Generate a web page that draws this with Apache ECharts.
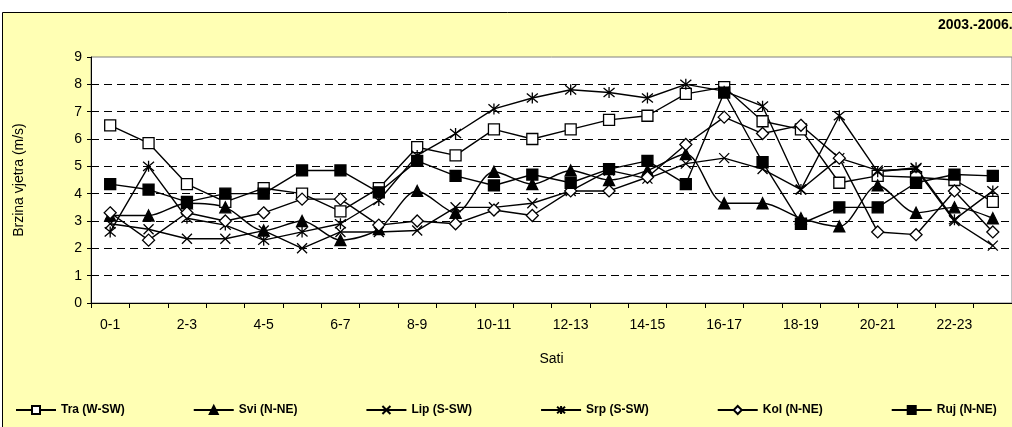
<!DOCTYPE html>
<html>
<head>
<meta charset="utf-8">
<script src="https://cdn.jsdelivr.net/npm/echarts@6/dist/echarts.min.js"></script>
<style>
html,body{margin:0;padding:0;background:#ffffff;}
#c{width:1012px;height:427px;}
</style>
</head>
<body>
<div id="c"></div>
<script>
var categories = ['0-1','1-2','2-3','3-4','4-5','5-6','6-7','7-8','8-9','9-10','10-11','11-12','12-13','13-14','14-15','15-16','16-17','17-18','18-19','19-20','20-21','21-22','22-23','23-24'];
var tra = [6.5, 5.85, 4.35, 3.7, 4.2, 4.0, 3.35, 4.2, 5.7, 5.4, 6.35, 6.0, 6.35, 6.7, 6.85, 7.65, 7.9, 6.65, 6.35, 4.4, 4.65, 4.6, 4.5, 3.7];
var svi = [3.2, 3.2, 3.65, 3.5, 2.65, 3.0, 2.3, 2.7, 4.1, 3.3, 4.8, 4.35, 4.85, 4.5, 4.85, 5.45, 3.65, 3.65, 3.1, 2.8, 4.3, 3.3, 3.5, 3.1];
var lip = [2.9, 2.7, 2.35, 2.35, 2.65, 2.0, 2.6, 2.6, 2.65, 3.5, 3.5, 3.65, 4.1, 4.85, 4.55, 5.1, 5.3, 4.9, 4.15, 5.3, 4.85, 4.9, 3.0, 2.1];
var srp = [2.6, 5.0, 3.1, 2.85, 2.3, 2.6, 2.9, 3.75, 5.4, 6.2, 7.1, 7.5, 7.8, 7.7, 7.5, 8.0, 7.75, 7.2, 4.15, 6.85, 4.8, 4.95, 3.05, 4.1];
var kol = [3.3, 2.3, 3.3, 3.0, 3.3, 3.8, 3.8, 2.85, 3.0, 2.9, 3.4, 3.2, 4.1, 4.1, 4.6, 5.8, 6.8, 6.2, 6.5, 5.3, 2.6, 2.5, 4.1, 2.6];
var ruj = [4.35, 4.15, 3.7, 4.0, 4.0, 4.85, 4.85, 4.05, 5.2, 4.65, 4.3, 4.7, 4.4, 4.9, 5.2, 4.35, 7.7, 5.15, 2.9, 3.5, 3.5, 4.4, 4.7, 4.65];
var seriesNames = ['Tra (W-SW)','Svi (N-NE)','Lip (S-SW)','Srp (S-SW)','Kol (N-NE)','Ruj (N-NE)'];
var yTicks = [0,1,2,3,4,5,6,7,8,9];

var FONT = '"Liberation Sans", Arial, sans-serif';
var X_PATH = 'path://M0,0L10,10M10,0L0,10';
var STAR_PATH = 'path://M0,0L10,10M10,0L0,10M5,-1L5,11';

function mk(name, data, symbol, size, fill, smooth) {
  return {
    name: name, type: 'line', data: data, symbol: symbol, symbolSize: size,
    smooth: smooth || false,
    showAllSymbol: true,
    lineStyle: {color: '#000', width: 1.4},
    itemStyle: {color: fill, borderColor: '#000', borderWidth: 1.3},
    emphasis: {disabled: true},
    z: 3
  };
}

var chart = echarts.init(document.getElementById('c'), null, {renderer: 'canvas'});
chart.setOption({
  animation: false,
  backgroundColor: '#ffffff',
  textStyle: {fontFamily: FONT},
  graphic: [
    {type: 'rect', z: -1, silent: true, shape: {x: 2.5, y: 12.5, width: 1030, height: 430},
     style: {fill: 'rgb(255,255,180)', stroke: '#000', lineWidth: 1}},
    {type: 'text', z: 10, left: 938, top: 18,
     style: {text: '2003.-2006.', font: 'bold 14px ' + FONT, fill: '#000'}}
  ],
  grid: {left: 91, top: 57, right: -6, bottom: 124, show: true, backgroundColor: '#ffffff', borderColor: '#808080', borderWidth: 1},
  legend: {
    bottom: 6, left: 10, itemWidth: 40, itemHeight: 10, itemGap: 68,
    textStyle: {fontFamily: FONT, fontWeight: 'bold', fontSize: 12, color: '#000'},
    data: seriesNames
  },
  xAxis: {
    type: 'category', data: categories, boundaryGap: true,
    name: 'Sati', nameLocation: 'middle', nameGap: 49,
    nameTextStyle: {fontFamily: FONT, fontSize: 14, color: '#000'},
    axisLine: {lineStyle: {color: '#000', width: 1}},
    axisTick: {show: true, interval: 0, length: 5, lineStyle: {color: '#000'}},
    axisLabel: {interval: 1, margin: 15, fontFamily: FONT, fontSize: 14, color: '#000'},
    splitLine: {show: false}
  },
  yAxis: {
    type: 'value', min: 0, max: 9, interval: 1,
    name: 'Brzina vjetra (m/s)', nameLocation: 'middle', nameGap: 65, nameRotate: 90,
    nameTextStyle: {fontFamily: FONT, fontSize: 14, color: '#000'},
    axisLine: {show: true, lineStyle: {color: '#000', width: 1}},
    axisTick: {show: true, length: 4, lineStyle: {color: '#000'}},
    axisLabel: {margin: 9, fontFamily: FONT, fontSize: 14, color: '#000',
      formatter: function (v) { return yTicks.indexOf(v) >= 0 ? String(v) : ''; }},
    splitLine: {show: true, lineStyle: {color: '#000', width: 1, type: [8, 5]},
      showMinLine: false, showMaxLine: false}
  },
  series: [
    mk(seriesNames[0], tra, 'rect', 11, '#fff'),
    mk(seriesNames[1], svi, 'triangle', 11, '#000', 0.3),
    mk(seriesNames[2], lip, X_PATH, 10, '#000'),
    mk(seriesNames[3], srp, STAR_PATH, 11, '#000'),
    mk(seriesNames[4], kol, 'diamond', 12, '#fff'),
    mk(seriesNames[5], ruj, 'rect', 11, '#000')
  ]
});
</script>
</body>
</html>
